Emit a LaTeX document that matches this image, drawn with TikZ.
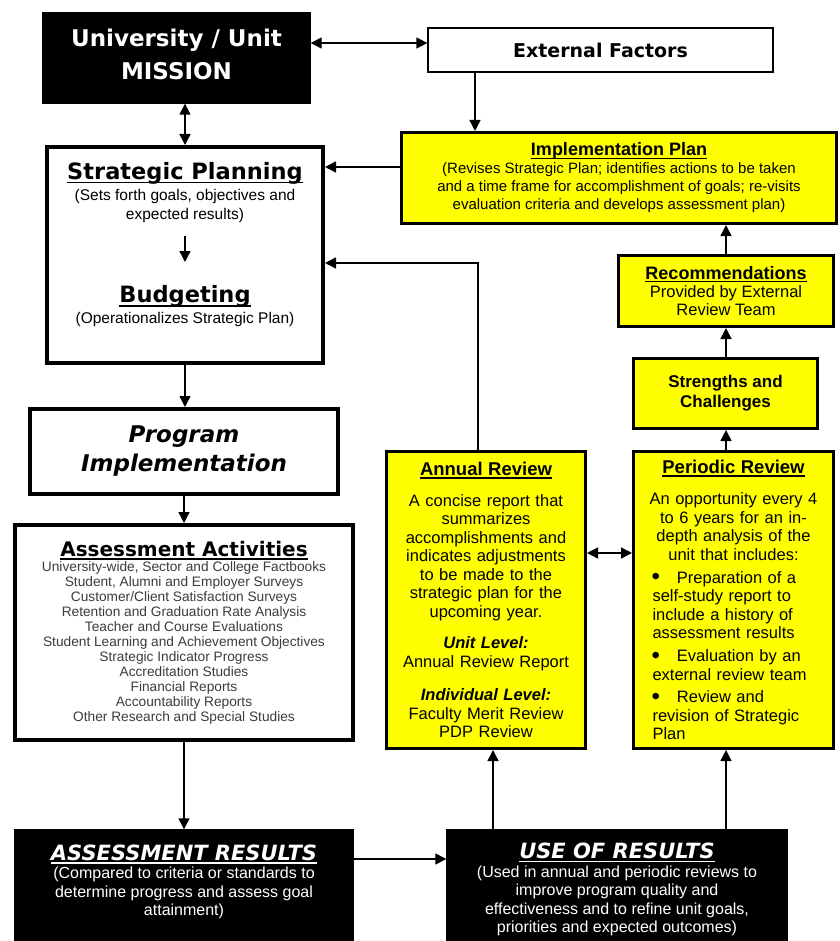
\documentclass[tikz,border=0pt]{standalone}
\usepackage{fontspec}
\setmainfont{Liberation Sans}
\newfontfamily\heavyfont{DejaVu Sans Bold}[ItalicFont=DejaVu Sans Bold Oblique]
\usepackage{tikz}
\usetikzlibrary{positioning, arrows.meta}
\definecolor{planyellow}{RGB}{255,255,0}
\definecolor{listgray}{RGB}{60,60,60}
\newcommand{\ulined}[1]{\setbox0=\hbox{#1}\rlap{\rule[-0.17em]{\wd0}{0.07em}}\box0}
\newcommand{\bigbullet}{\hspace*{-1pt}\raisebox{-1.5pt}{\fontsize{24}{18}\selectfont\textbullet}\hspace{17pt}}

\begin{document}
\begin{tikzpicture}[->, x=1pt, y=-1pt, line width=1.4pt, >={Triangle[length=11pt,width=11pt]}]
	\tikzset{
	    blackbox/.style= {rectangle, draw=black, fill=black, text=white, inner sep=0pt, align=center},
	    whitebox/.style= {rectangle, draw=black, line width=4pt, fill=white, inner sep=0pt, align=center},
	    yellowbox/.style= {rectangle, draw=black, line width=3pt, fill=planyellow, inner sep=0pt, align=center},
	    boxtext/.style= {inner sep=0pt, align=center, anchor=north},
	}
	\useasboundingbox (0,0) rectangle (839,941);

	\node[blackbox, minimum width=267, minimum height=90, font=\heavyfont\fontsize{23}{33}\selectfont] (mission) at (176.5,58) {University / Unit\\MISSION\rule[-8pt]{0pt}{8pt}};
	\node[rectangle, draw=black, line width=1.3pt, minimum width=345, minimum height=44, font=\heavyfont\fontsize{19}{22}\selectfont] (extf) at (600.5,50) {External Factors};

	% left column
	\node[whitebox, minimum width=276, minimum height=216] (strat) at (185,255) {};
	\node[boxtext, font=\fontsize{15.5}{19}\selectfont] (sptext) at (185,161.5) {{\heavyfont\fontsize{22.5}{24}\selectfont\ulined{Strategic Planning}}\\[2pt](Sets forth goals, objectives and\\expected results)};
	\node[boxtext, font=\fontsize{15.5}{19}\selectfont] (budtext) at (185,285) {{\heavyfont\fontsize{22.5}{24}\selectfont\ulined{Budgeting}}\\[2pt](Operationalizes Strategic Plan)};
	\node[whitebox, minimum width=308, minimum height=85, font=\heavyfont\itshape\fontsize{23}{29}\selectfont] (prog) at (184,451.5) {Program\\Implementation};
	\node[whitebox, minimum width=338, minimum height=215, text=listgray, font=\fontsize{13.7}{15}\selectfont] (assess) at (184,632.5) {{\color{black}\heavyfont\fontsize{20}{22}\selectfont\ulined{Assessment Activities}}\\[0pt]
		University-wide, Sector and College Factbooks\\Student, Alumni and Employer Surveys\\Customer/Client Satisfaction Surveys\\Retention and Graduation Rate Analysis\\Teacher and Course Evaluations\\Student Learning and Achievement Objectives\\Strategic Indicator Progress\\Accreditation Studies\\Financial Reports\\Accountability Reports\\Other Research and Special Studies};

	% results row
	\node[blackbox, minimum width=338, minimum height=111] (ares) at (184,885.5) {};
	\node[boxtext, text=white, font=\fontsize{16}{18.5}\selectfont] (arestext) at (184,844) {{\heavyfont\itshape\fontsize{21}{23}\selectfont\ulined{ASSESSMENT RESULTS}}\\(Compared to criteria or standards to\\determine progress and assess goal\\attainment)};
	\node[blackbox, minimum width=340, minimum height=111] (ures) at (617,885.5) {};
	\node[boxtext, text=white, font=\fontsize{16}{18.5}\selectfont] (urestext) at (617,842.5) {{\heavyfont\itshape\fontsize{21}{23}\selectfont\ulined{USE OF RESULTS}}\\(Used in annual and periodic reviews to\\improve program quality and\\effectiveness and to refine unit goals,\\priorities and expected outcomes)};

	% review column
	\node[yellowbox, minimum width=435, minimum height=91, font=\fontsize{15}{18}\selectfont] (impl) at (619,178) {{\bfseries\fontsize{18}{20}\selectfont\ulined{Implementation Plan}}\\(Revises Strategic Plan; identifies actions to be taken\\and a time frame for accomplishment of goals; re-visits\\evaluation criteria and develops assessment plan)};
	\node[yellowbox, minimum width=215, minimum height=71, font=\fontsize{16.5}{18.3}\selectfont] (recom) at (726,291) {{\bfseries\fontsize{18}{20}\selectfont\ulined{Recommendations}}\\Provided by External\\Review Team};
	\node[yellowbox, minimum width=184, minimum height=70, font=\bfseries\fontsize{17}{20}\selectfont] (strength) at (725.5,393.5) {Strengths and\\Challenges};
	\node[yellowbox, minimum width=199, minimum height=297, text width=190, font=\fontsize{16.5}{18.5}\selectfont] (annual) at (486,600) {{\bfseries\fontsize{18.5}{20}\selectfont\ulined{Annual Review}}\par\vspace{12.5pt}
		A concise report that\\summarizes\\accomplishments and\\indicates adjustments\\to be made to the\\strategic plan for the\\upcoming year.\par\vspace{13pt}
		\textbf{\textit{Unit Level:}}\\Annual Review Report\par\vspace{15pt}
		\textbf{\textit{Individual Level:}}\\Faculty Merit Review\\PDP Review\par};
	\node[yellowbox, minimum width=200, minimum height=297, text width=170, font=\fontsize{16.5}{18.5}\selectfont] (periodic) at (733.5,600) {{\bfseries\fontsize{18.5}{20}\selectfont\ulined{Periodic Review}}\par\vspace{12.5pt}
		An opportunity every 4\\to 6 years for an in-\\depth analysis of the\\unit that includes:\par\vspace{4.5pt}
		\raggedright\leftskip=4pt
		\bigbullet Preparation of a\\self-study report to\\include a history of\\assessment results\par\vspace{4.5pt}
		\bigbullet Evaluation by an\\external review team\par\vspace{4pt}
		\bigbullet Review and\\revision of Strategic\\Plan\par};

	% connectors
	\coordinate (efdrop) at (475,0);
	\coordinate (implin) at (0,167);
	\coordinate (arturn) at (478,263);
	\coordinate (resrow) at (0,859);
	\coordinate (reviewrow) at (0,553);
	\coordinate (annualfeed) at (493,0);
	\coordinate (periodfeed) at (726,0);

	\draw[<->] ([yshift=15pt]mission.east) -- ([yshift=7pt]extf.west);
	\draw[<->] (mission.south -| strat.north) -- (strat.north);
	\draw (efdrop |- extf.south) -- (efdrop |- impl.north);
	\draw (implin -| impl.west) -- (implin -| strat.east);
	\draw[shorten <=13pt, shorten >=23pt] (sptext.south) -- (budtext.north);
	\draw (arturn |- annual.north) -- (arturn) -- (arturn -| strat.east);
	\draw (strat.south) -- (strat.south |- prog.north);
	\draw (prog.south) -- (prog.south |- assess.north);
	\draw (assess.south) -- (assess.south |- ares.north);
	\draw (resrow -| ares.east) -- (resrow -| ures.west);
	\draw (annualfeed |- ures.north) -- (annualfeed |- annual.south);
	\draw (periodfeed |- ures.north) -- (periodfeed |- periodic.south);
	\draw[<->] (reviewrow -| annual.east) -- (reviewrow -| periodic.west);
	\draw (periodfeed |- periodic.north) -- (periodfeed |- strength.south);
	\draw (periodfeed |- strength.north) -- (periodfeed |- recom.south);
	\draw (periodfeed |- recom.north) -- (periodfeed |- impl.south);
\end{tikzpicture}
\end{document}
